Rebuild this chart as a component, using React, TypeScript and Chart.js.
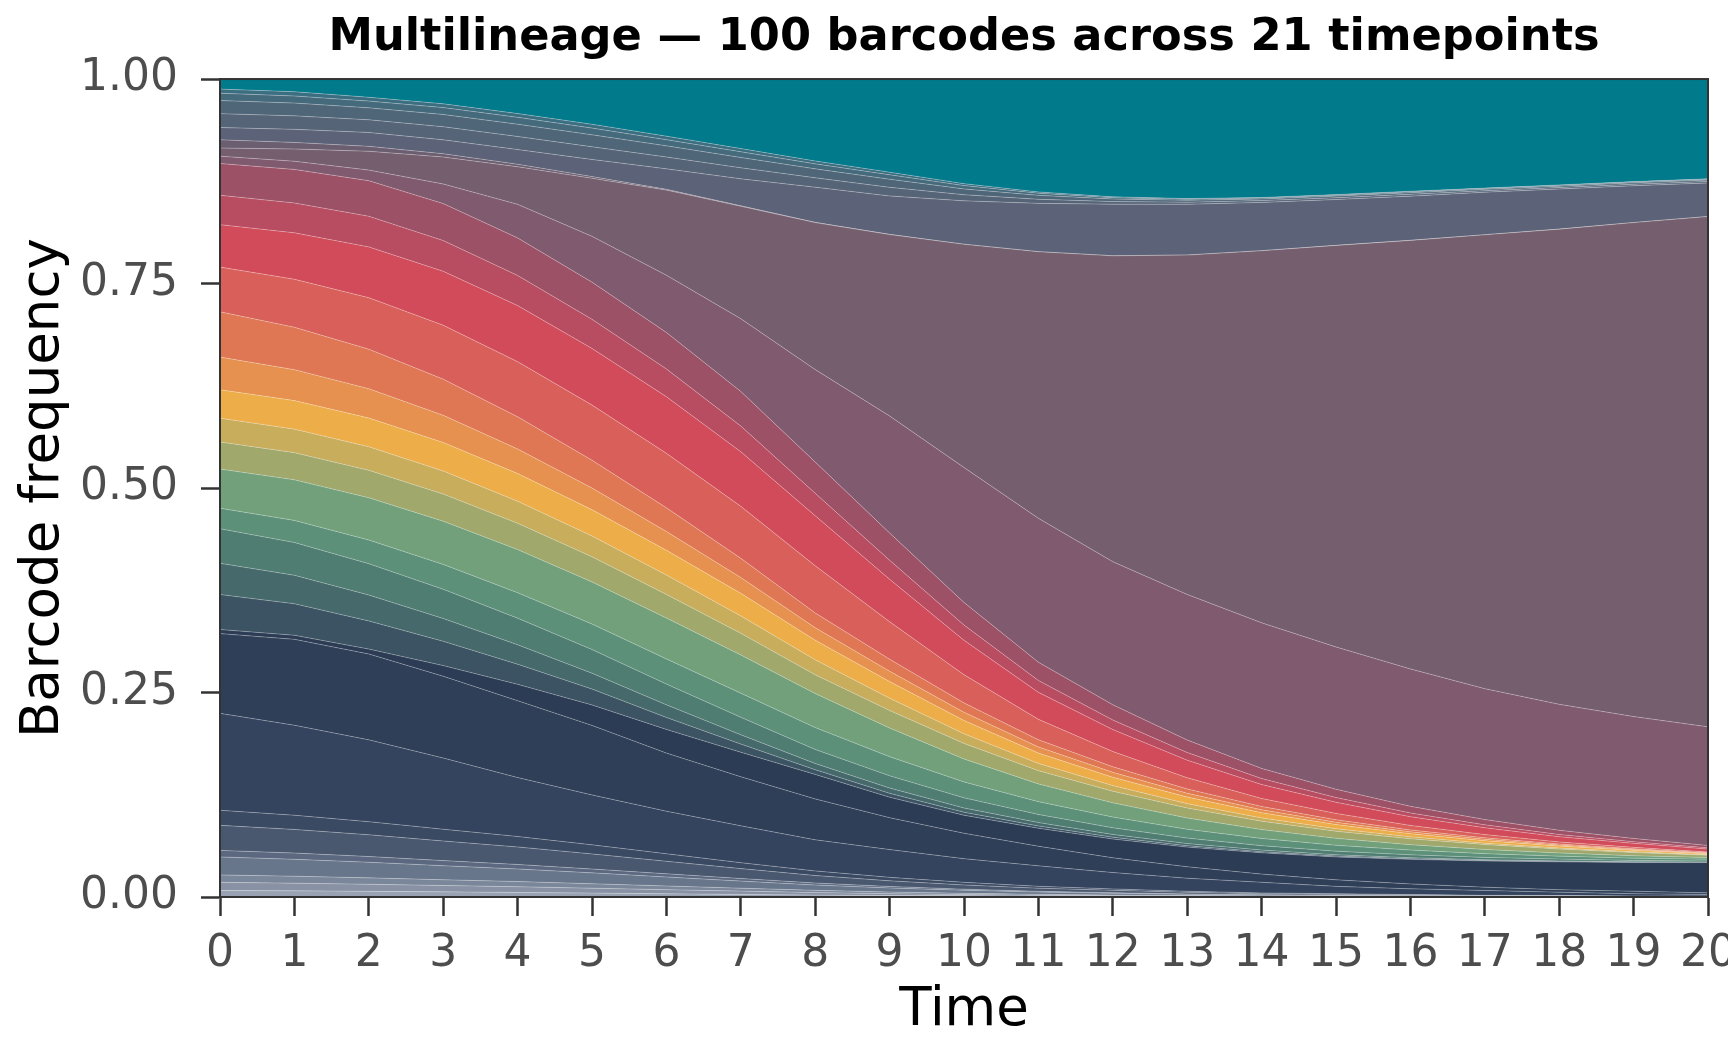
import React, { useEffect, useRef } from 'react';
import { Chart, registerables } from 'chart.js';

Chart.register(...registerables);

const TIMEPOINTS = [0, 1, 2, 3, 4, 5, 6, 7, 8, 9, 10, 11, 12, 13, 14, 15, 16, 17, 18, 19, 20];
const Y_TICKS = [0, 0.25, 0.5, 0.75, 1];

// ---- barcode frequencies, bottom of the stack first ----
// light grey / slate minor barcodes
const GREY_1 = [0.008, 0.0075, 0.0069, 0.0063, 0.0056, 0.0048, 0.004, 0.0032, 0.0024, 0.0018, 0.0014, 0.001, 0.0008, 0.0005, 0.0004, 0.0003, 0.0002, 0.00015, 0.00015, 0.0001, 0.0001];
const GREY_2 = [0.01, 0.0094, 0.0087, 0.0078, 0.007, 0.006, 0.005, 0.004, 0.003, 0.0023, 0.0017, 0.0012, 0.0009, 0.0007, 0.0005, 0.0004, 0.0003, 0.0002, 0.0002, 0.0001, 0.0001];
const GREY_3 = [0.009, 0.0085, 0.0078, 0.007, 0.0063, 0.0054, 0.0045, 0.0036, 0.0027, 0.002, 0.0015, 0.0011, 0.0008, 0.0006, 0.0004, 0.0003, 0.0003, 0.0002, 0.0002, 0.0001, 0.0001];
const GREY_4 = [0.022, 0.0207, 0.0191, 0.0172, 0.0154, 0.0133, 0.011, 0.0087, 0.0066, 0.005, 0.0037, 0.0027, 0.0021, 0.0015, 0.001, 0.0008, 0.0006, 0.0004, 0.0004, 0.0002, 0.0002];
const SLATE_1 = [0.008, 0.0076, 0.007, 0.0062, 0.0055, 0.0047, 0.0039, 0.0031, 0.0024, 0.0018, 0.0013, 0.001, 0.0007, 0.0005, 0.0004, 0.0003, 0.0002, 0.0002, 0.0001, 0.0001, 0.0001];
const SLATE_2 = [0.0306, 0.0289, 0.0266, 0.024, 0.0214, 0.0185, 0.0153, 0.0121, 0.0092, 0.0069, 0.0052, 0.0038, 0.0029, 0.002, 0.0014, 0.0012, 0.0009, 0.0006, 0.0006, 0.0003, 0.0003];
const SLATE_3 = [0.0184, 0.0174, 0.016, 0.0144, 0.0128, 0.0111, 0.0092, 0.0073, 0.0056, 0.0042, 0.0031, 0.0023, 0.0017, 0.0012, 0.0009, 0.0007, 0.0005, 0.0003, 0.0003, 0.0002, 0.0002];
// navy barcodes
const NAVY_1 = [0.1185, 0.11, 0.1, 0.087, 0.072, 0.061, 0.052, 0.045, 0.038, 0.034, 0.029, 0.025, 0.02, 0.016, 0.013, 0.009, 0.007, 0.006, 0.004, 0.003, 0.002];
const NAVY_2 = [0.0975, 0.105, 0.105, 0.1, 0.094, 0.085, 0.071, 0.06, 0.05, 0.039, 0.031, 0.024, 0.018, 0.014, 0.01, 0.008, 0.006, 0.004, 0.003, 0.003, 0.002];
const NAVY_3 = [0.005, 0.005, 0.006, 0.013, 0.02, 0.025, 0.029, 0.03, 0.03, 0.025, 0.022, 0.022, 0.023, 0.024, 0.026, 0.028, 0.03, 0.032, 0.034, 0.035, 0.037];
// teal / green / yellow / orange / red barcodes
const DARK_TEAL_1 = [0.0428, 0.0385, 0.0344, 0.0297, 0.0246, 0.0194, 0.0146, 0.0099, 0.0057, 0.0047, 0.0037, 0.0028, 0.0022, 0.0017, 0.0013, 0.001, 0.00075, 0.00056, 0.00041, 0.0003, 0.00021];
const DARK_TEAL_2 = [0.0382, 0.0348, 0.0317, 0.0279, 0.0238, 0.0194, 0.0154, 0.0114, 0.0076, 0.0065, 0.0052, 0.0041, 0.0033, 0.0026, 0.0021, 0.0016, 0.0013, 0.001, 0.0008, 0.0006, 0.0004];
const TEAL_GREEN_1 = [0.0422, 0.0401, 0.0383, 0.0357, 0.0325, 0.0289, 0.0254, 0.0214, 0.0172, 0.015, 0.0124, 0.0099, 0.0082, 0.0067, 0.0054, 0.0044, 0.0035, 0.0028, 0.0022, 0.0017, 0.0013];
const TEAL_GREEN_2 = [0.0251, 0.027, 0.0289, 0.0304, 0.0311, 0.0312, 0.0308, 0.0295, 0.0267, 0.0234, 0.0195, 0.0157, 0.0131, 0.0108, 0.0088, 0.0072, 0.0058, 0.0046, 0.0036, 0.0028, 0.0021];
const GREEN = [0.0479, 0.0496, 0.0517, 0.0528, 0.0527, 0.0515, 0.0499, 0.0467, 0.0416, 0.035, 0.028, 0.0217, 0.0174, 0.0138, 0.0108, 0.0085, 0.0066, 0.0051, 0.0039, 0.0029, 0.0021];
const OLIVE = [0.0331, 0.0332, 0.0335, 0.0332, 0.0322, 0.0307, 0.0289, 0.0264, 0.0229, 0.0215, 0.0191, 0.0162, 0.0142, 0.0122, 0.0103, 0.0087, 0.0073, 0.006, 0.0048, 0.0039, 0.0029];
const YELLOW_OLIVE = [0.0291, 0.0288, 0.0288, 0.0282, 0.027, 0.0254, 0.0237, 0.0213, 0.0183, 0.015, 0.0117, 0.0088, 0.0069, 0.0053, 0.004, 0.0031, 0.0023, 0.0017, 0.0013, 0.001, 0.0006];
const YELLOW = [0.0348, 0.0349, 0.0352, 0.0349, 0.0339, 0.0322, 0.0303, 0.0277, 0.0241, 0.0203, 0.0163, 0.0126, 0.0102, 0.0081, 0.0064, 0.005, 0.0039, 0.0031, 0.0023, 0.0018, 0.0013];
const AMBER = [0.0399, 0.0378, 0.0358, 0.0332, 0.03, 0.0265, 0.023, 0.0193, 0.0153, 0.0127, 0.01, 0.0076, 0.006, 0.0047, 0.0036, 0.0029, 0.0022, 0.0017, 0.0012, 0.0009, 0.0006];
const ORANGE = [0.0553, 0.0518, 0.0484, 0.0442, 0.0393, 0.034, 0.0289, 0.0235, 0.018, 0.0147, 0.0115, 0.0087, 0.0068, 0.0052, 0.004, 0.003, 0.0024, 0.0018, 0.0013, 0.001, 0.0006];
const SALMON = [0.0547, 0.0587, 0.0629, 0.0659, 0.0674, 0.0674, 0.0666, 0.0635, 0.0577, 0.0458, 0.0345, 0.025, 0.0187, 0.0137, 0.0098, 0.0078, 0.0055, 0.0039, 0.0026, 0.0017, 0.0008];
const RED = [0.0519, 0.0568, 0.0621, 0.066, 0.0685, 0.0693, 0.0693, 0.0668, 0.0611, 0.0519, 0.042, 0.033, 0.0268, 0.0215, 0.017, 0.0136, 0.0107, 0.0084, 0.0064, 0.0049, 0.0036];
const ROSE = [0.0359, 0.0365, 0.0374, 0.0375, 0.0369, 0.0355, 0.0339, 0.0313, 0.0275, 0.0232, 0.0186, 0.0145, 0.0117, 0.0093, 0.0073, 0.0058, 0.0045, 0.0035, 0.0027, 0.002, 0.0015];
const CRIMSON = [0.0388, 0.041, 0.0435, 0.0452, 0.0459, 0.0455, 0.0446, 0.0423, 0.0382, 0.0334, 0.0277, 0.0223, 0.0186, 0.0153, 0.0124, 0.0101, 0.0081, 0.0065, 0.0051, 0.004, 0.0029];
// expanding mauve clones
const MAUVE_B = [0.009, 0.01, 0.013, 0.024, 0.041, 0.056, 0.07, 0.089, 0.113, 0.143, 0.165, 0.176, 0.175, 0.178, 0.178, 0.174, 0.168, 0.16, 0.154, 0.149, 0.145];
const MAUVE_A = [0.01, 0.015, 0.023, 0.033, 0.046, 0.071, 0.104, 0.1375, 0.1797, 0.2218, 0.2729, 0.3259, 0.3739, 0.4149, 0.4549, 0.4909, 0.5239, 0.5549, 0.5809, 0.6039, 0.6239];
const MAUVE_MINOR = [0.01, 0.008, 0.006, 0.004, 0.003, 0.002, 0.001, 0.0005, 0.0003, 0.0002, 0.0001, 0.0001, 0.0001, 0.0001, 0.0001, 0.0001, 0.0001, 0.0001, 0.0001, 0.0001, 0.0001];
// slate-blue clone and the small blue barcodes under the top teal clone
const SLATE_BLUE = [0.015, 0.016, 0.017, 0.017, 0.018, 0.021, 0.025, 0.033, 0.043, 0.047, 0.053, 0.059, 0.063, 0.062, 0.059, 0.056, 0.054, 0.052, 0.049, 0.045, 0.041];
const BLUE_1 = [0.017, 0.0165, 0.0155, 0.016, 0.016, 0.0155, 0.0145, 0.0135, 0.0115, 0.0105, 0.0075, 0.005, 0.0032, 0.0025, 0.0022, 0.0022, 0.0022, 0.0018, 0.0018, 0.0018, 0.0018];
const BLUE_2 = [0.016, 0.0156, 0.0146, 0.015, 0.015, 0.0146, 0.0136, 0.0126, 0.0109, 0.0099, 0.0071, 0.0048, 0.0031, 0.0024, 0.002, 0.002, 0.002, 0.0017, 0.0017, 0.0017, 0.0017];
const BLUE_3 = [0.009, 0.0087, 0.0082, 0.0084, 0.0084, 0.0082, 0.0076, 0.007, 0.0061, 0.0055, 0.004, 0.0027, 0.0017, 0.0013, 0.0011, 0.0011, 0.0011, 0.001, 0.001, 0.001, 0.001];
const BLUE_4 = [0.005, 0.0052, 0.0047, 0.0046, 0.0046, 0.0047, 0.0043, 0.0039, 0.0035, 0.0031, 0.0024, 0.0015, 0.001, 0.0008, 0.0007, 0.0007, 0.0007, 0.0005, 0.0005, 0.0005, 0.0005];
const TEAL_TOP = [0.012, 0.015, 0.022, 0.03, 0.042, 0.055, 0.07, 0.085, 0.1, 0.114, 0.128, 0.138, 0.144, 0.146, 0.145, 0.142, 0.138, 0.134, 0.13, 0.126, 0.123];

const SERIES: { name: string; values: number[]; color: string }[] = [
  { name: 'grey 1', values: GREY_1, color: '#98a2b2' },
  { name: 'grey 2', values: GREY_2, color: '#8892a4' },
  { name: 'grey 3', values: GREY_3, color: '#7a8699' },
  { name: 'grey 4', values: GREY_4, color: '#68768b' },
  { name: 'slate 1', values: SLATE_1, color: '#5b6880' },
  { name: 'slate 2', values: SLATE_2, color: '#4a586f' },
  { name: 'slate 3', values: SLATE_3, color: '#3b4a63' },
  { name: 'navy 1', values: NAVY_1, color: '#34445e' },
  { name: 'navy 2', values: NAVY_2, color: '#2f3f58' },
  { name: 'navy 3', values: NAVY_3, color: '#2c3c55' },
  { name: 'dark teal 1', values: DARK_TEAL_1, color: '#3b5363' },
  { name: 'dark teal 2', values: DARK_TEAL_2, color: '#466a6b' },
  { name: 'teal green 1', values: TEAL_GREEN_1, color: '#4f7d72' },
  { name: 'teal green 2', values: TEAL_GREEN_2, color: '#5c9079' },
  { name: 'green', values: GREEN, color: '#72a07b' },
  { name: 'olive', values: OLIVE, color: '#a0a86b' },
  { name: 'yellow olive', values: YELLOW_OLIVE, color: '#c8ad5c' },
  { name: 'yellow', values: YELLOW, color: '#edad49' },
  { name: 'amber', values: AMBER, color: '#e6914f' },
  { name: 'orange', values: ORANGE, color: '#df7654' },
  { name: 'salmon', values: SALMON, color: '#d9605a' },
  { name: 'red', values: RED, color: '#d24b5a' },
  { name: 'rose', values: ROSE, color: '#b84c60' },
  { name: 'crimson', values: CRIMSON, color: '#9c5166' },
  { name: 'mauve B', values: MAUVE_B, color: '#805b70' },
  { name: 'mauve A', values: MAUVE_A, color: '#755f6f' },
  { name: 'mauve minor', values: MAUVE_MINOR, color: '#6a5e70' },
  { name: 'slate blue', values: SLATE_BLUE, color: '#5c6378' },
  { name: 'blue 1', values: BLUE_1, color: '#566478' },
  { name: 'blue 2', values: BLUE_2, color: '#4e6678' },
  { name: 'blue 3', values: BLUE_3, color: '#456a7c' },
  { name: 'blue 4', values: BLUE_4, color: '#3a6e80' },
  { name: 'teal top', values: TEAL_TOP, color: '#017a8b' },
];

const FONT = 'DejaVu Sans';
const AXIS_DARK = '#333333';
const TICK_GREY = '#4d4d4d';

const framePlugin = {
  id: 'frame',
  afterDraw(chart: any) {
    const { ctx, chartArea: a } = chart;
    ctx.save();
    ctx.strokeStyle = AXIS_DARK;
    ctx.lineWidth = 2;
    ctx.strokeRect(a.left, a.top, a.right - a.left, a.bottom - a.top);
    ctx.restore();
  },
};

export default function App() {
  const ref = useRef<HTMLCanvasElement>(null);

  useEffect(() => {
    document.body.style.margin = '0';
    const canvas = ref.current;
    if (!canvas) return;
    const chart = new Chart(canvas, {
      type: 'line',
      data: {
        labels: TIMEPOINTS.map(String),
        datasets: SERIES.map((s, i) => ({
          label: s.name,
          data: s.values,
          backgroundColor: s.color,
          borderColor: 'rgba(255,255,255,0.38)',
          borderWidth: 0.7,
          pointRadius: 0,
          tension: 0,
          fill: i === 0 ? 'origin' : '-1',
        })),
      },
      options: {
        animation: false,
        responsive: false,
        devicePixelRatio: 1,
        events: [],
        layout: { padding: { left: 0, right: 20, top: 0, bottom: 0 } },
        plugins: {
          legend: { display: false },
          tooltip: { enabled: false },
          title: {
            display: true,
            fullSize: false,
            text: 'Multilineage — 100 barcodes across 21 timepoints',
            color: '#000',
            font: { family: FONT, size: 44.7, weight: 'bold' },
            padding: { top: 12, bottom: 13.4 },
          },
        },
        scales: {
          x: {
            type: 'category',
            offset: false,
            grid: {
              display: true,
              drawOnChartArea: false,
              drawTicks: true,
              tickLength: 19,
              tickWidth: 2.5,
              tickColor: AXIS_DARK,
            },
            border: { display: true, color: AXIS_DARK, width: 2 },
            ticks: {
              autoSkip: false,
              maxRotation: 0,
              color: TICK_GREY,
              font: { family: FONT, size: 44 },
              padding: 12,
            },
            title: {
              display: true,
              text: 'Time',
              color: '#000',
              font: { family: FONT, size: 53 },
              padding: { top: 0, bottom: 13 },
            },
            afterFit: (s: any) => {
              s.height = 159;
              s.paddingLeft = 0;
              s.paddingRight = 0;
            },
          },
          y: {
            type: 'linear',
            stacked: true,
            min: 0,
            max: 1,
            afterBuildTicks: (s: any) => {
              s.ticks = Y_TICKS.map((v) => ({ value: v }));
            },
            grid: {
              display: true,
              drawOnChartArea: false,
              drawTicks: true,
              tickLength: 19,
              tickWidth: 2.5,
              tickColor: AXIS_DARK,
            },
            border: { display: true, color: AXIS_DARK, width: 2 },
            ticks: {
              color: TICK_GREY,
              font: { family: FONT, size: 44 },
              padding: 23,
              callback: (v: any) => Number(v).toFixed(2),
            },
            title: {
              display: true,
              text: 'Barcode frequency',
              color: '#000',
              font: { family: FONT, size: 53 },
              padding: { top: 12, bottom: 0 },
            },
            afterFit: (s: any) => {
              s.width = 220;
              s.paddingTop = 0;
              s.paddingBottom = 0;
            },
          },
        },
      },
      plugins: [framePlugin],
    });
    return () => chart.destroy();
  }, []);

  return (
    <div style={{ width: 1728, height: 1056 }}>
      <canvas ref={ref} width={1728} height={1056} style={{ display: 'block' }} />
    </div>
  );
}
